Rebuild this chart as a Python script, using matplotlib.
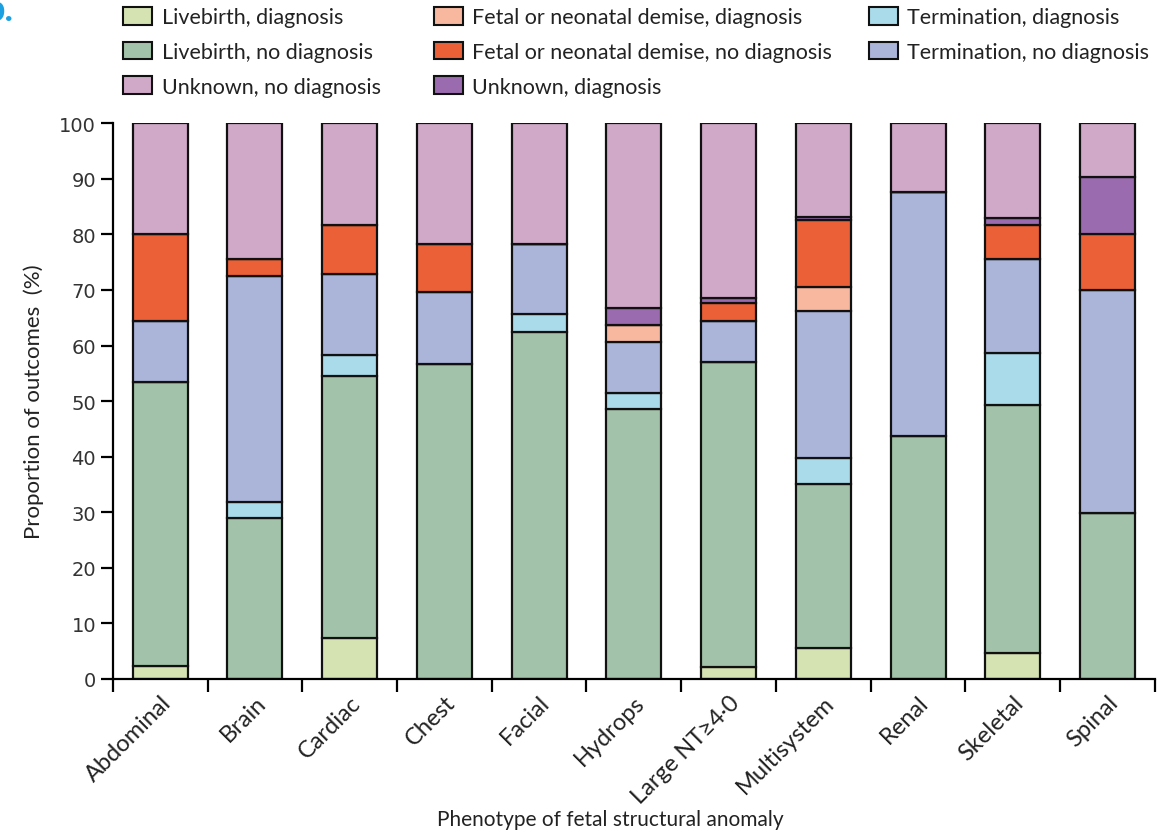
import matplotlib.pyplot as plt
import numpy as np
from matplotlib.patches import Patch

# phenotypes along x
categories = ['Abdominal', 'Brain', 'Cardiac', 'Chest', 'Facial', 'Hydrops',
              'Large NT\u22654\u00b70', 'Multisystem', 'Renal', 'Skeletal', 'Spinal']

# segment heights (%), stacked from the bottom in this order
livebirth_dx    = [2.3, 0.0, 7.3, 0.0, 0.0, 0.0, 2.1, 5.6, 0.0, 4.6, 0.0]
livebirth_nodx  = [51.2, 29.0, 47.2, 56.6, 62.5, 48.5, 54.9, 29.4, 43.8, 44.7, 29.9]
termination_dx  = [0.0, 2.9, 3.8, 0.0, 3.2, 3.0, 0.0, 4.8, 0.0, 9.3, 0.0]
termination_nodx = [10.9, 40.6, 14.5, 13.1, 12.5, 9.2, 7.5, 26.5, 43.8, 16.9, 40.0]
fetal_dx        = [0.0, 0.0, 0.0, 0.0, 0.0, 3.0, 0.0, 4.2, 0.0, 0.0, 0.0]
fetal_nodx      = [15.7, 3.0, 8.8, 8.6, 0.0, 0.0, 3.1, 12.0, 0.0, 6.1, 10.2]
unknown_dx      = [0.0, 0.0, 0.0, 0.0, 0.0, 3.1, 1.0, 0.6, 0.0, 1.3, 10.2]
unknown_nodx    = [19.9, 24.5, 18.4, 21.7, 21.8, 33.2, 31.4, 16.9, 12.4, 17.1, 9.7]

series = [
    ('Livebirth, diagnosis', livebirth_dx, '#d5e3b2'),
    ('Livebirth, no diagnosis', livebirth_nodx, '#a2c3a9'),
    ('Termination, diagnosis', termination_dx, '#a9dbea'),
    ('Termination, no diagnosis', termination_nodx, '#abb5da'),
    ('Fetal or neonatal demise, diagnosis', fetal_dx, '#f8b8a0'),
    ('Fetal or neonatal demise, no diagnosis', fetal_nodx, '#ec6037'),
    ('Unknown, diagnosis', unknown_dx, '#9a6bae'),
    ('Unknown, no diagnosis', unknown_nodx, '#d1a9c8'),
]

plt.rcParams['font.family'] = ['Lato', 'DejaVu Sans']
txt_col = '#222222'

fig = plt.figure(figsize=(11.63, 8.37), dpi=100)
ax = fig.add_axes([0.097, 0.1876, 0.896, 0.664])

x = np.arange(len(categories))
bottom = np.zeros(len(categories))
handles = {}
for name, vals, col in series:
    vals = np.array(vals)
    ax.bar(x, vals, bottom=bottom, width=0.58, color=col,
           edgecolor='#111111', linewidth=1.6)
    bottom += vals
    handles[name] = Patch(facecolor=col, edgecolor='#111111', linewidth=1.5)

ax.set_xlim(-0.5, len(categories) - 0.5)
ax.set_ylim(0, 100)
ax.spines['top'].set_visible(False)
ax.spines['right'].set_visible(False)
ax.spines['left'].set_linewidth(1.6)
ax.spines['bottom'].set_linewidth(1.6)

ax.set_yticks(np.arange(0, 101, 10))
ax.tick_params(axis='y', length=9, width=1.6, labelsize=14, pad=3,
               labelcolor='#333333')
for lab in ax.get_yticklabels():
    lab.set_family(['DejaVu Sans'])

ax.set_xticks(x)
ax.set_xticklabels(categories, rotation=45, ha='right', va='top',
                   rotation_mode='anchor', fontsize=17, color=txt_col)
ax.tick_params(axis='x', length=0, pad=9)
ax.set_xticks(np.arange(len(categories) + 1) - 0.5, minor=True)
ax.tick_params(axis='x', which='minor', length=9, width=1.6)

ax.set_ylabel('Proportion of outcomes  (%)', fontsize=16, labelpad=11,
              color=txt_col)
fig.text(0.525, 0.008, 'Phenotype of fetal structural anomaly', ha='center',
         va='bottom', fontsize=15, color=txt_col)

# legend: three columns placed where the reference has them
leg_cols = [
    (0.104, ['Livebirth, diagnosis', 'Livebirth, no diagnosis', 'Unknown, no diagnosis']),
    (0.371, ['Fetal or neonatal demise, diagnosis', 'Fetal or neonatal demise, no diagnosis',
             'Unknown, diagnosis']),
    (0.745, ['Termination, diagnosis', 'Termination, no diagnosis']),
]
for xpos, names in leg_cols:
    leg = fig.legend([handles[n] for n in names], names, loc='upper left',
                     bbox_to_anchor=(xpos, 0.993), frameon=False, fontsize=15.5,
                     handlelength=1.35, handleheight=0.9, handletextpad=0.45,
                     labelspacing=0.66, borderaxespad=0, borderpad=0.1)
    for t in leg.get_texts():
        t.set_color(txt_col)

# cut-off panel letter at the top-left corner
fig.text(-0.0135, 0.975, 'b.', color='#1ba1e2', fontsize=26, fontweight='bold',
         ha='left', va='baseline')

fig.savefig('out.png', dpi=100)
